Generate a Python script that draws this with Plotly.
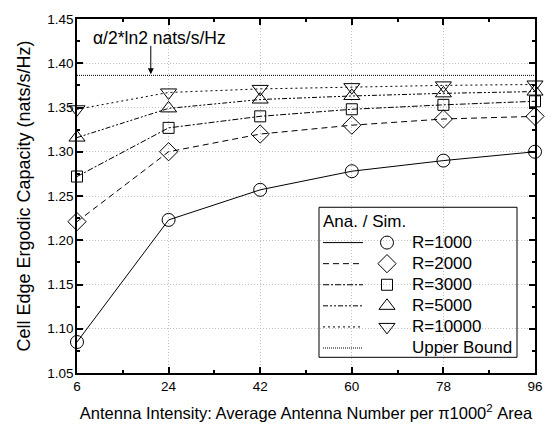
import plotly.graph_objects as go

x_vals = [6, 24, 42, 60, 78, 96]
r1000 = [1.085, 1.223, 1.257, 1.278, 1.290, 1.300]
r2000 = [1.221, 1.300, 1.320, 1.330, 1.337, 1.340]
r3000 = [1.272, 1.327, 1.340, 1.348, 1.353, 1.357]
r5000 = [1.316, 1.349, 1.359, 1.363, 1.366, 1.368]
r10000 = [1.348, 1.367, 1.371, 1.373, 1.375, 1.376]
upper_bound = 1.3863
series_names = ["R=1000", "R=2000", "R=3000", "R=5000", "R=10000"]
series_vals = [r1000, r2000, r3000, r5000, r10000]
symbols = ["circle-open", "diamond-open", "square-open", "triangle-up-open", "triangle-down-open"]
msizes = [13, 14, 11, 14, 14]
dashes = ["solid", "6px,4px", "6px,2px,2px,2px", "5px,2px,2px,2px,2px,2px", "2px,3px"]
ub_dash = "1px,1px"

FONT = "Liberation Sans, Arial, sans-serif"

fig = go.Figure()

for name, vals, sym, ms, d in zip(series_names, series_vals, symbols, msizes, dashes):
    fig.add_trace(go.Scatter(
        x=x_vals, y=vals, mode="lines+markers", name=name,
        line=dict(color="black", width=1, dash=d),
        marker=dict(symbol=sym, size=ms, color="black", line=dict(width=1, color="black")),
        cliponaxis=False, showlegend=False,
    ))

fig.add_trace(go.Scatter(
    x=[x_vals[0], x_vals[-1]], y=[upper_bound, upper_bound], mode="lines",
    line=dict(color="black", width=1, dash=ub_dash), showlegend=False,
))

# Custom legend drawn on overlay axes spanning the plot area [0,1]x[0,1]
W, H = 559, 432
L, R, T, B = 77, 24, 12, 59
pw, ph = W - L - R, H - T - B

def px(xp):
    return (xp - L) / pw

def py(yp):
    return (H - B - yp) / ph

fig.add_shape(type="rect", xref="paper", yref="paper",
              x0=px(319), x1=px(517), y0=py(357), y1=py(204),
              line=dict(color="black", width=1), fillcolor="white", layer="between")

fig.add_annotation(xref="paper", yref="paper", x=px(321), y=py(219), text="Ana. / Sim.",
                   showarrow=False, xanchor="left", yanchor="middle",
                   font=dict(family=FONT, size=17, color="black"))

row_y = [240, 261.5, 283, 304.5, 326, 347.5]
leg_labels = series_names + ["Upper Bound"]
leg_dashes = dashes + [ub_dash]
for i, (lab, d) in enumerate(zip(leg_labels, leg_dashes)):
    yy = row_y[i]
    fig.add_trace(go.Scatter(
        x=[px(323), px(363)], y=[py(yy), py(yy)], mode="lines",
        line=dict(color="black", width=1, dash=d),
        xaxis="x2", yaxis="y2", showlegend=False, hoverinfo="skip"))
    if i < len(symbols):
        fig.add_trace(go.Scatter(
            x=[px(387)], y=[py(yy)], mode="markers",
            marker=dict(symbol=symbols[i], size=msizes[i], color="black", line=dict(width=1, color="black")),
            xaxis="x2", yaxis="y2", showlegend=False, hoverinfo="skip"))
    fig.add_annotation(xref="paper", yref="paper", x=px(410), y=py(yy), text=lab,
                       showarrow=False, xanchor="left", yanchor="middle",
                       font=dict(family=FONT, size=17, color="black"))

# Upper bound label and arrow
fig.add_annotation(x=20.5, y=upper_bound, xref="x", yref="y", text="",
                   showarrow=True, ax=0, ay=-31, arrowhead=2, arrowsize=1.2, arrowwidth=1,
                   arrowcolor="black", standoff=1)
fig.add_annotation(xref="paper", yref="paper", x=px(91), y=py(31), text="\u03b1/2*ln2 nats/s/Hz",
                   showarrow=False, xanchor="left", yanchor="middle",
                   font=dict(family=FONT, size=17.5, color="black"))

axis_common = dict(
    showline=True, linecolor="black", linewidth=1.5, mirror="ticks",
    ticks="inside", ticklen=6, tickwidth=1.5, tickcolor="black",
    showgrid=True, gridcolor="#c0c0c0", griddash="1px,2px", gridwidth=1,
    zeroline=False,
    tickfont=dict(family=FONT, size=13.5, color="black"),
)

fig.update_layout(
    width=W, height=H,
    margin=dict(l=L, r=R, t=T, b=B),
    paper_bgcolor="white", plot_bgcolor="white",
    xaxis=dict(range=[6, 96], tickvals=x_vals, ticktext=[str(v) for v in x_vals],
               minor=dict(tickvals=[15, 33, 51, 69, 87], ticks="inside", ticklen=3, tickcolor="black", showgrid=False),
               title=dict(text="Antenna Intensity: Average Antenna Number per \u03c01000<sup>2</sup> Area",
                          font=dict(family=FONT, size=16.5, color="black"), standoff=14),
               **axis_common),
    yaxis=dict(range=[1.05, 1.45], dtick=0.05, tickformat=".2f", ticklabelstandoff=-1,
               minor=dict(dtick=0.025, ticks="inside", ticklen=3, tickcolor="black", showgrid=False),
               title=dict(text="Cell Edge Ergodic Capacity (nats/s/Hz)",
                          font=dict(family=FONT, size=18, color="black"), standoff=12),
               **axis_common),
    xaxis2=dict(overlaying="x", range=[0, 1], visible=False, fixedrange=True),
    yaxis2=dict(overlaying="y", range=[0, 1], visible=False, fixedrange=True),
    showlegend=False,
)

fig.write_html("out.html")
